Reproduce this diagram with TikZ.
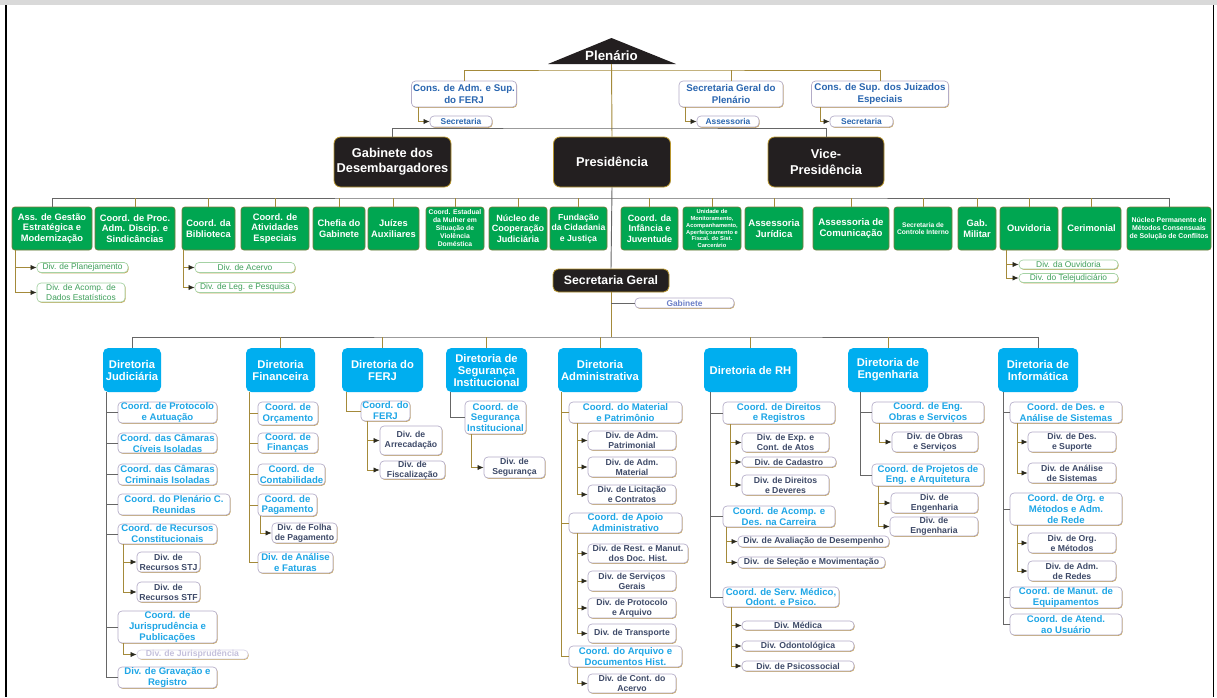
\documentclass[tikz,border=0pt]{standalone}
\usepackage{fontspec}
\setmainfont{Liberation Sans}
\usetikzlibrary{arrows.meta,calc,shadows}
\definecolor{orgblack}{HTML}{231F20}
\definecolor{boxgold}{HTML}{B8962E}
\definecolor{orggreen}{HTML}{00A651}
\definecolor{greenedge}{HTML}{7E7A3A}
\definecolor{orgcyan}{HTML}{00AEEF}
\definecolor{coordblue}{HTML}{1EA6E6}
\definecolor{topblue}{HTML}{2A66B0}
\definecolor{divslate}{HTML}{3E4A68}
\definecolor{gabtext}{HTML}{6C80C8}
\definecolor{boxrim}{HTML}{B3ACC8}
\definecolor{boxshade}{HTML}{C9A757}
\definecolor{greenrim}{HTML}{A4D2A4}
\definecolor{greentext}{HTML}{3E9F5A}
\definecolor{fadedrim}{HTML}{D6D2E6}
\definecolor{fadedtext}{HTML}{C4C0DC}
\definecolor{linegold}{HTML}{A48A3A}
\definecolor{linegray}{HTML}{666666}
\definecolor{tipdark}{HTML}{2B2A1E}
\definecolor{framegray}{HTML}{D9D9D9}
\newcommand\fsz[2]{\fontsize{#1}{#2}\selectfont}
\tikzset{
  wh/.style 2 args={minimum width=#1*0.75pt, minimum height=#2*0.75pt},
  plentext/.style={font=\fsz{10}{11}\bfseries, text=white},
  blackbox/.style={fill=orgblack, draw=boxgold, line width=.6pt, rounded corners=5pt,
    text=white, font=\fsz{9.6}{11.5}\bfseries, align=center, inner sep=0pt},
  greenbox/.style={fill=orggreen, draw=greenedge, line width=.4pt, rounded corners=2pt,
    text=white, font=\fsz{7}{8}\bfseries, align=center, inner sep=0pt},
  dirbox/.style={fill=orgcyan, rounded corners=4pt, text=white,
    font=\fsz{8.4}{9}\bfseries, align=center, inner sep=0pt},
  whitebox/.style={fill=white, draw=boxrim, line width=.5pt, rounded corners=3pt,
    align=center, inner sep=0pt,
    drop shadow={shadow xshift=.5pt, shadow yshift=-.6pt, fill=boxshade, opacity=1}},
  topbox/.style={whitebox, text=topblue, font=\fsz{7.3}{8.3}\bfseries},
  smallbox/.style={whitebox, text=topblue, font=\fsz{6.3}{6.5}\bfseries},
  coordbox/.style={whitebox, text=coordblue, font=\fsz{7.2}{8.2}\bfseries},
  divbox/.style={whitebox, text=divslate, font=\fsz{6.5}{7.5}\bfseries},
  greensub/.style={whitebox, draw=greenrim, text=greentext, font=\fsz{6.3}{7.2}},
  orgbus/.style={draw=linegray, line width=.7pt},
  orgdrop/.style={draw=linegold, line width=.7pt},
  orgarrow/.style={draw=linegold, line width=.6pt,
    -{Latex[length=4.6pt,width=4pt,color=tipdark]}}
}
\begin{document}
\begin{tikzpicture}[x=0.75pt,y=-0.75pt]
  % Organogram of the court, page frame in pixel units
  \useasboundingbox (0,0) rectangle (1217,697);
  \fill[white] (0,0) rectangle (1217,697);
  \fill[framegray] (0,0) rectangle (1217,5);
  \draw[line width=1.5pt] (6,5) -- (6,697);
  \draw[line width=1pt] (1213.5,5) -- (1213.5,697);

  \fill[orgblack] (548,64) -- (611.5,38) -- (676,64) -- cycle;
  \node[plentext] (plen) at (611.5,56) {Plenário};
  \coordinate (plenbase) at (611.5,64);

  \node[topbox, wh={105}{26}] (consadm) at (464,94) {Cons. de Adm. e Sup.\\do FERJ};
  \node[topbox, wh={104}{26}] (secplen) at (731,94) {Secretaria Geral do\\Plenário};
  \node[topbox, wh={137}{26}] (conssup) at (880,94) {Cons. de Sup. dos Juizados\\Especiais};
  \node[smallbox, wh={62}{11}] (consadmsec) at (461,121.5) {Secretaria};
  \node[smallbox, wh={62}{11}] (secplenass) at (728,121.5) {Assessoria};
  \node[smallbox, wh={63}{11}] (conssupsec) at (861.5,121.5) {Secretaria};

  \node[blackbox, wh={117}{50}] (gabdes) at (392.5,162) {Gabinete dos\\Desembargadores};
  \node[blackbox, wh={117}{50}] (pres) at (612,162) {Presidência};
  \node[blackbox, wh={116}{50}] (vice) at (826,162) {Vice-\\Presidência};

  \node[greenbox, wh={80}{43}] (g1) at (52,228.5) {Ass. de Gestão\\Estratégica e\\Modernização};
  \node[greenbox, wh={80}{43}] (g2) at (135,228.5) {Coord. de Proc.\\Adm. Discip. e\\Sindicâncias};
  \node[greenbox, wh={53}{43}] (g3) at (208.5,228.5) {Coord. da\\Biblioteca};
  \node[greenbox, wh={68}{43}] (g4) at (275,228.5) {Coord. de\\Atividades\\Especiais};
  \node[greenbox, wh={52}{43}] (g5) at (339,228.5) {Chefia do\\Gabinete};
  \node[greenbox, wh={51}{43}] (g6) at (393.5,228.5) {Juízes\\Auxiliares};
  \node[greenbox, wh={58}{43}, font=\fsz{5.1}{6}\bfseries] (g7) at (455,228.5)
    {Coord. Estadual\\da Mulher em\\Situação de\\Violência\\Doméstica};
  \node[greenbox, wh={58}{43}, font=\fsz{6.8}{8}\bfseries] (g8) at (518,228.5) {Núcleo de\\Cooperação\\Judiciária};
  \node[greenbox, wh={57}{43}, font=\fsz{6.5}{7.8}\bfseries] (g9) at (578.5,228.5) {Fundação\\da Cidadania\\e Justiça};
  \node[greenbox, wh={57}{43}, font=\fsz{6.8}{8}\bfseries] (g10) at (649.5,228.5) {Coord. da\\Infância e\\Juventude};
  \node[greenbox, wh={58}{43}, font=\fsz{4.3}{5.2}\bfseries] (g11) at (712,228.5)
    {Unidade de\\Monitoramento,\\Acompanhamento,\\Aperfeiçoamento e\\Fiscal. do Sist.\\Carcerário};
  \node[greenbox, wh={58}{43}, font=\fsz{7.2}{8.2}\bfseries] (g12) at (774,228.5) {Assessoria\\Jurídica};
  \node[greenbox, wh={76}{43}, font=\fsz{7.2}{8.2}\bfseries] (g13) at (851,228.5) {Assessoria de\\Comunicação};
  \node[greenbox, wh={58}{43}, font=\fsz{5}{5.8}\bfseries] (g14) at (923,228.5) {Secretaria de\\Controle Interno};
  \node[greenbox, wh={38}{43}] (g15) at (977,228.5) {Gab.\\Militar};
  \node[greenbox, wh={58}{43}] (g16) at (1029,228.5) {Ouvidoria};
  \node[greenbox, wh={59}{43}] (g17) at (1091.5,228.5) {Cerimonial};
  \node[greenbox, wh={84}{43}, font=\fsz{5.2}{6}\bfseries] (g18) at (1169,228.5)
    {Núcleo Permanente de\\Métodos Consensuais\\de Solução de Conflitos};

  \node[greensub, wh={91}{10}] (gs1) at (82.5,267.5) {Div. de Planejamento};
  \node[greensub, wh={88}{19}] (gs2) at (81,292.5) {Div. de Acomp. de\\Dados Estatísticos};
  \node[greensub, wh={100}{10}] (gs3) at (245,267.5) {Div. de Acervo};
  \node[greensub, wh={100}{10}] (gs4) at (245,287.5) {Div. de Leg. e Pesquisa};
  \node[greensub, wh={99}{9}] (gs5) at (1068.5,264.5) {Div. da Ouvidoria};
  \node[greensub, wh={99}{9}] (gs6) at (1068.5,278) {Div. do Telejudiciário};

  \node[blackbox, wh={116}{23}, rounded corners=4pt, font=\fsz{9.2}{10}\bfseries]
    (secger) at (611,280.5) {Secretaria Geral};
  \node[smallbox, wh={99}{10}, text=gabtext] (secgab) at (684.5,303) {Gabinete};

  \node[dirbox, wh={58}{44}] (dj) at (132,370) {Diretoria\\Judiciária};
  \node[dirbox, wh={69}{44}] (df) at (280.5,370) {Diretoria\\Financeira};
  \node[dirbox, wh={81}{44}] (dferj) at (382.5,370) {Diretoria do\\FERJ};
  \node[dirbox, wh={81}{44}] (dseg) at (486.5,370) {Diretoria de\\Segurança\\Institucional};
  \node[dirbox, wh={84}{44}] (dadm) at (600,370) {Diretoria\\Administrativa};
  \node[dirbox, wh={93}{44}] (drh) at (750.5,370) {Diretoria de RH};
  \node[dirbox, wh={80}{44}] (deng) at (888,370) {Diretoria de\\Engenharia};
  \node[dirbox, wh={80}{44}] (dinf) at (1038,370) {Diretoria de\\Informática};

  \node[coordbox, wh={99}{21}] (j1) at (167.5,412.5) {Coord. de Protocolo\\e Autuação};
  \node[coordbox, wh={99}{20}] (j2) at (167.5,443) {Coord. das Câmaras\\Cíveis Isoladas};
  \node[coordbox, wh={99}{21}] (j3) at (167.5,474.5) {Coord. das Câmaras\\Criminais Isoladas};
  \node[coordbox, wh={112}{21}] (j4) at (174,504.5) {Coord. do Plenário C.\\Reunidas};
  \node[coordbox, wh={99}{20}] (j5) at (167.5,534) {Coord. de Recursos\\Constitucionais};
  \node[divbox, wh={63}{20}] (j5a) at (168.5,562) {Div. de\\Recursos STJ};
  \node[divbox, wh={63}{20}] (j5b) at (168.5,592) {Div. de\\Recursos STF};
  \node[coordbox, wh={99}{32}] (j6) at (167.5,627) {Coord. de\\Jurisprudência e\\Publicações};
  \node[divbox, wh={111}{9}, draw=fadedrim, text=fadedtext] (j6a) at (192.5,654.5) {Div. de Jurisprudência};
  \node[coordbox, wh={99}{21}] (j7) at (167.5,677.5) {Div. de Gravação e\\Registro};

  \node[coordbox, wh={60}{23}] (f1) at (288,413.5) {Coord. de\\Orçamento};
  \node[coordbox, wh={60}{20}] (f2) at (288,443) {Coord. de\\Finanças};
  \node[coordbox, wh={67}{21}] (f3) at (291.5,474.5) {Coord. de\\Contabilidade};
  \node[coordbox, wh={59}{22}] (f4) at (287.5,505) {Coord. de\\Pagamento};
  \node[divbox, wh={65}{20}] (f4a) at (304.5,533) {Div. de Folha\\de Pagamento};
  \node[coordbox, wh={75}{21}] (f5) at (295.5,562.5) {Div. de Análise\\e Faturas};

  \node[coordbox, wh={49}{20}] (fe1) at (385.5,411) {Coord. do\\FERJ};
  \node[divbox, wh={62}{29}] (fe1a) at (411,440.5) {Div. de\\Arrecadação};
  \node[divbox, wh={65}{18}] (fe1b) at (412.5,470) {Div. de\\Fiscalização};

  \node[coordbox, wh={61}{33}] (s1) at (495.5,417.5) {Coord. de\\Segurança\\Institucional};
  \node[divbox, wh={61}{21}] (s1a) at (514.5,467.5) {Div. de\\Segurança};

  \node[coordbox, wh={113}{21}] (a1) at (625.5,412.5) {Coord. do Material\\e Patrimônio};
  \node[divbox, wh={88}{19}] (a1a) at (632,440.5) {Div. de Adm.\\Patrimonial};
  \node[divbox, wh={88}{20}] (a1b) at (632,467) {Div. de Adm.\\Material};
  \node[divbox, wh={88}{19}] (a1c) at (632,494.5) {Div. de Licitação\\e Contratos};
  \node[coordbox, wh={113}{20}] (a2) at (625.5,523) {Coord. de Apoio\\Administrativo};
  \node[divbox, wh={100}{19}] (a2a) at (638,553.5) {Div. de Rest. e Manut.\\dos Doc. Hist.};
  \node[divbox, wh={88}{20}] (a2b) at (632,581) {Div. de Serviços\\Gerais};
  \node[divbox, wh={88}{20}] (a2c) at (632,608) {Div. de Protocolo\\e Arquivo};
  \node[divbox, wh={88}{19}] (a2d) at (632,633.5) {Div. de Transporte};
  \node[coordbox, wh={113}{21}] (a3) at (625.5,656.5) {Coord. do Arquivo e\\Documentos Hist.};
  \node[divbox, wh={88}{19}] (a3a) at (632,683.5) {Div. de Cont. do\\Acervo};

  \node[coordbox, wh={112}{22}] (r1) at (779,413) {Coord. de Direitos\\e Registros};
  \node[divbox, wh={87}{19}] (r1a) at (785.5,442.5) {Div. de Exp. e\\Cont. de Atos};
  \node[divbox, wh={94}{10}] (r1b) at (789,462) {Div. de Cadastro};
  \node[divbox, wh={87}{20}] (r1c) at (785.5,485) {Div. de Direitos\\e Deveres};
  \node[coordbox, wh={112}{21}] (r2) at (779,516.5) {Coord. de Acomp. e\\Des. na Carreira};
  \node[divbox, wh={151}{11}] (r2a) at (813.5,541.5) {Div. de Avaliação de Desempenho};
  \node[divbox, wh={147}{11}] (r2b) at (811.5,562.5) {Div.\ \ de Seleção e Movimentação};
  \node[coordbox, wh={116}{20}] (r3) at (781,597) {Coord. de Serv. Médico,\\Odont. e Psico.};
  \node[divbox, wh={112}{9}] (r3a) at (798,625.5) {Div. Médica};
  \node[divbox, wh={112}{10}] (r3b) at (798,646) {Div. Odontológica};
  \node[divbox, wh={112}{10}] (r3c) at (798,666) {Div. de Psicossocial};

  \node[coordbox, wh={112}{21}] (e1) at (928,412.5) {Coord. de Eng.\\Obras e Serviços};
  \node[divbox, wh={86}{20}] (e1a) at (935,442) {Div. de Obras\\e Serviços};
  \node[coordbox, wh={112}{22}] (e2) at (928,475) {Coord. de Projetos de\\Eng. e Arquitetura};
  \node[divbox, wh={87}{20}] (e2a) at (934.5,503) {Div. de\\Engenharia};
  \node[divbox, wh={88}{19}] (e2b) at (934,526.5) {Div. de\\Engenharia};

  \node[coordbox, wh={112}{21}] (i1) at (1066,412.5) {Coord. de Des. e\\Análise de Sistemas};
  \node[divbox, wh={88}{20}] (i1a) at (1072,442) {Div. de Des.\\e Suporte};
  \node[divbox, wh={88}{20}] (i1b) at (1072,473) {Div. de Análise\\de Sistemas};
  \node[coordbox, wh={112}{32}] (i2) at (1066,509) {Coord. de Org. e\\Métodos e Adm.\\de Rede};
  \node[divbox, wh={88}{20}] (i2a) at (1072,543) {Div. de Org.\\e Métodos};
  \node[divbox, wh={88}{20}] (i2b) at (1072,571) {Div. de Adm.\\de Redes};
  \node[coordbox, wh={112}{21}] (i3) at (1066,597.5) {Coord. de Manut. de\\Equipamentos};
  \node[coordbox, wh={112}{21}] (i4) at (1066,624.5) {Coord. de Atend.\\ao Usuário};

  % connectors
  \coordinate (topbus) at (611.5,70);
  \coordinate (presbus) at (611.5,128);
  \coordinate (greenbus) at (611.5,198);
  \coordinate (dirbus) at (611,337);
  \draw[orgdrop] (plenbase) -- (pres.north);
  \draw[orgdrop] (consadm.north) |- (topbus) -| (conssup.north);
  \draw[orgdrop] (secplen.north) -- (secplen.north |- topbus);
  \draw[orgbus] (gabdes.north) |- (presbus) -| (vice.north);
  \draw[orgbus] (g1.north) |- (greenbus) -| (g18.north);
  \foreach \g in {g2,g3,g4,g5,g6,g7,g8,g9,g10,g11,g12,g13,g14,g15,g16,g17}
    \draw[orgdrop] (\g.north) -- (\g.north |- greenbus);
  \draw[orgbus] (pres.south) -- (secger.north);
  \draw[orgdrop] (secger.south) -- (dirbus);
  \draw[orgbus] (secgab.west) -- (secgab.west -| secger.south);
  \draw[orgbus] (dj.north) |- (dirbus) -| (dinf.north);
  \foreach \d in {df,dferj,dseg,dadm,drh,deng}
    \draw[orgdrop] (\d.north) -- (\d.north |- dirbus);

  \draw[orgarrow] ($(consadm.south west)+(7,0)$) |- (consadmsec.west);
  \draw[orgarrow] ($(secplen.south west)+(7,0)$) |- (secplenass.west);
  \draw[orgarrow] ($(conssup.south west)+(9,0)$) |- (conssupsec.west);
  \foreach \c in {gs1,gs2} \draw[orgarrow] ($(g1.south west)+(4,0)$) |- (\c.west);
  \foreach \c in {gs3,gs4} \draw[orgarrow] ($(g3.south west)+(2,0)$) |- (\c.west);
  \foreach \c in {gs5,gs6} \draw[orgarrow] ($(g16.south west)+(7,0)$) |- (\c.west);

  \foreach \c in {j1,j2,j3,j4,j5,j6,j7} \draw[orgbus] ($(dj.south west)+(4,0)$) |- (\c.west);
  \foreach \c in {j5a,j5b} \draw[orgarrow] ($(j5.south west)+(6,0)$) |- (\c.west);
  \draw[orgarrow] ($(j6.south west)+(6,0)$) |- (j6a.west);
  \foreach \c in {f1,f2,f3,f4,f5} \draw[orgdrop] ($(df.south west)+(4,0)$) |- (\c.west);
  \draw[orgarrow] ($(f4.south west)+(3,0)$) |- (f4a.west);
  \draw[orgdrop] ($(dferj.south west)+(5,0)$) |- (fe1.west);
  \foreach \c in {fe1a,fe1b} \draw[orgarrow] ($(fe1.south west)+(7,0)$) |- (\c.west);
  \draw[orgbus] ($(dseg.south west)+(5,0)$) |- (s1.west);
  \draw[orgarrow] ($(s1.south west)+(7,0)$) |- (s1a.west);
  \foreach \c in {a1,a2,a3} \draw[orgdrop] ($(dadm.south west)+(4,0)$) |- (\c.west);
  \foreach \c in {a1a,a1b,a1c} \draw[orgarrow] ($(a1.south west)+(9,0)$) |- (\c.west);
  \foreach \c in {a2a,a2b,a2c,a2d} \draw[orgarrow] ($(a2.south west)+(9,0)$) |- (\c.west);
  \draw[orgarrow] ($(a3.south west)+(9,0)$) |- (a3a.west);
  \foreach \c in {r1,r2,r3} \draw[orgbus] ($(drh.south west)+(7,0)$) |- (\c.west);
  \foreach \c in {r1a,r1b,r1c} \draw[orgarrow] ($(r1.south west)+(8,0)$) |- (\c.west);
  \foreach \c in {r2a,r2b} \draw[orgarrow] ($(r2.south west)+(4,0)$) |- (\c.west);
  \foreach \c in {r3a,r3b,r3c} \draw[orgarrow] ($(r3.south west)+(9,0)$) |- (\c.west);
  \foreach \c in {e1,e2} \draw[orgbus] ($(deng.south west)+(13,0)$) |- (\c.west);
  \draw[orgarrow] ($(e1.south west)+(8,0)$) |- (e1a.west);
  \foreach \c in {e2a,e2b} \draw[orgarrow] ($(e2.south west)+(7,0)$) |- (\c.west);
  \foreach \c in {i1,i2,i3,i4} \draw[orgbus] ($(dinf.south west)+(6,0)$) |- (\c.west);
  \foreach \c in {i1a,i1b} \draw[orgarrow] ($(i1.south west)+(8,0)$) |- (\c.west);
  \foreach \c in {i2a,i2b} \draw[orgarrow] ($(i2.south west)+(8,0)$) |- (\c.west);
\end{tikzpicture}
\end{document}
